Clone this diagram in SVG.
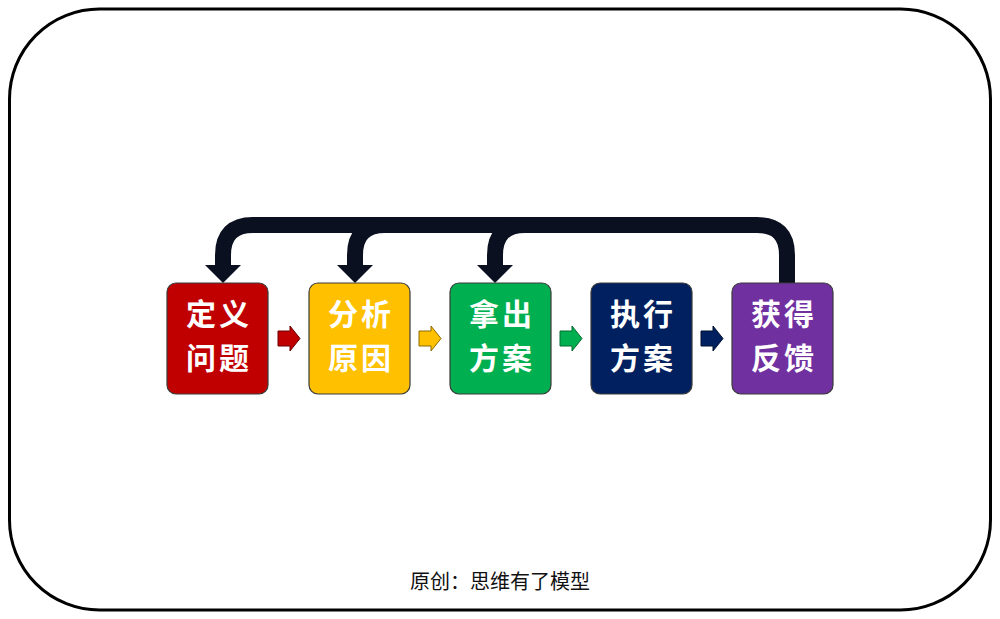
<svg xmlns="http://www.w3.org/2000/svg" width="1000" height="619" viewBox="0 0 1000 619">
<style>
.box{stroke:#3a3a3a;stroke-width:1.2}
.lbl{font-family:"Noto Sans CJK SC","Noto Sans",sans-serif;font-weight:bold;font-size:30px;letter-spacing:3px;fill:#ffffff;text-anchor:middle}
.conn{fill:none;stroke:#0b1020;stroke-width:16}
.head{fill:#0b1020}
.sa{stroke-width:1;stroke-linejoin:miter}
</style>
<defs>
<path id="sarrow" d="M0,5 H12 V0 L22,12.5 L12,25 V20 H0 Z"/>
</defs>
<rect x="9.5" y="9" width="981" height="601" rx="90" ry="90" fill="#ffffff" stroke="#000000" stroke-width="3"/>
<g id="connectors">
<path class="conn" d="M787,284 V255 Q787,225 757,225 H253 Q223,225 223,255 V266"/>
<path class="conn" d="M355,266 V255 Q355,225 385,225"/>
<path class="conn" d="M495,266 V255 Q495,225 525,225"/>
<path class="head" d="M205,265 H241 L223,283 Z"/>
<path class="head" d="M337,265 H373 L355,283 Z"/>
<path class="head" d="M477,265 H513 L495,283 Z"/>
<use href="#sarrow" x="278" y="326" fill="#c00000" stroke="#6a0000" class="sa"/>
<use href="#sarrow" x="419" y="326" fill="#ffc000" stroke="#8a6a00" class="sa"/>
<use href="#sarrow" x="560" y="326" fill="#00b050" stroke="#006a30" class="sa"/>
<use href="#sarrow" x="701" y="326" fill="#002060" stroke="#001030" class="sa"/>
</g>
<g id="n1">
<rect class="box" x="167" y="283" width="101" height="111" rx="9" fill="#c00000"/>
<text class="lbl"><tspan x="219" y="325">定义</tspan><tspan x="219" y="369">问题</tspan></text>
</g>
<g id="n2">
<rect class="box" x="309" y="283" width="101" height="111" rx="9" fill="#ffc000"/>
<text class="lbl"><tspan x="361" y="325">分析</tspan><tspan x="361" y="369">原因</tspan></text>
</g>
<g id="n3">
<rect class="box" x="450" y="283" width="101" height="111" rx="9" fill="#00b050"/>
<text class="lbl"><tspan x="502" y="325">拿出</tspan><tspan x="502" y="369">方案</tspan></text>
</g>
<g id="n4">
<rect class="box" x="591" y="283" width="101" height="111" rx="9" fill="#002060"/>
<text class="lbl"><tspan x="643" y="325">执行</tspan><tspan x="643" y="369">方案</tspan></text>
</g>
<g id="n5">
<rect class="box" x="732" y="283" width="101" height="111" rx="9" fill="#7030a0"/>
<text class="lbl"><tspan x="784" y="325">获得</tspan><tspan x="784" y="369">反馈</tspan></text>
</g>
<text x="500" y="589" font-family="'Noto Sans CJK SC','Noto Sans',sans-serif" font-size="20" fill="#111111" text-anchor="middle">原创：思维有了模型</text>
</svg>
